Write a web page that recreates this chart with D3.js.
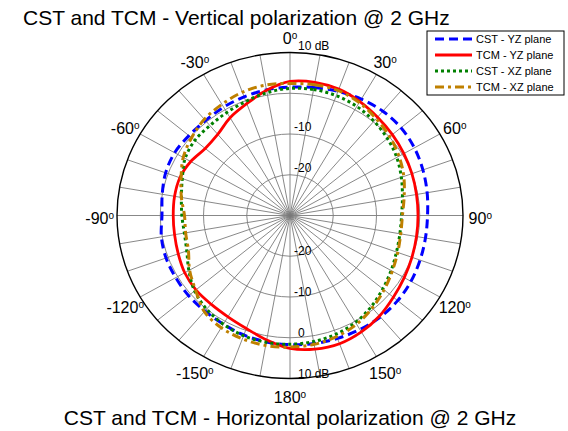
<!DOCTYPE html>
<html>
<head>
<meta charset="utf-8">
<script src="https://cdn.jsdelivr.net/npm/d3@7"></script>
<style>
  body { margin: 0; background: #fff; }
  text { font-family: "Liberation Sans", Arial, sans-serif; }
</style>
</head>
<body>
<div id="chart"></div>
<script>
// angles in degrees, clockwise from top
var angles = [0, 10, 20, 30, 40, 50, 60, 70, 80, 90, 100, 110, 120, 130, 140, 150, 160, 170,
              180, 190, 200, 210, 220, 230, 240, 250, 260, 270, 280, 290, 300, 310, 320, 330, 340, 350];

var cstYZ = [1.5, 1.9, 2.4, 3.0, 3.4, 3.5, 3.2, 2.7, 2.2, 1.8, 1.8, 2.0, 2.3, 2.5, 2.5, 2.3, 2.1, 1.9,
             1.7, 1.5, 1.2, 0.8, 0.6, 0.6, 0.5, 0.5, 0.2, -0.4, 0.0, 0.6, 0.8, 0.5, 0.4, 0.7, 1.0, 1.3];
var tcmYZ = [2.9, 3.2, 3.0, 2.3, 1.5, 0.9, 0.4, 0.0, -0.3, -0.4, -0.3, 0.0, 0.5, 1.2, 2.2, 3.0, 3.5, 3.3,
             2.6, 1.0, -0.5, -1.3, -1.6, -1.6, -1.9, -2.5, -2.9, -3.0, -2.9, -2.9, -3.5, -4.4, -4.0, -2.3, -0.8, 1.2];
var cstXZ = [1.2, 1.4, 1.3, 0.9, 0.2, -0.6, -1.5, -2.6, -3.6, -4.2, -4.2, -3.8, -3.0, -2.0, -0.8, 0.3, 1.0, 1.4,
             1.6, 1.6, 1.4, 0.8, 0.0, -1.2, -3.0, -4.6, -5.2, -5.0, -4.5, -3.5, -2.0, -1.3, -1.2, -0.8, -0.2, 0.6];
var tcmXZ = [2.4, 2.6, 2.6, 2.0, 1.0, 0.1, -0.9, -2.0, -3.2, -4.0, -4.0, -3.5, -2.7, -1.6, -0.4, 0.8, 1.6, 2.1,
             2.3, 2.4, 2.2, 1.8, 0.8, -1.5, -3.2, -5.0, -5.5, -5.6, -4.5, -3.2, -1.5, -0.3, 0.8, 1.5, 2.2, 2.5];

var seriesNames = ["CST - YZ plane", "TCM - YZ plane", "CST - XZ plane", "TCM - XZ plane"];
var ringValues = [-20, -10, 0, 10];
var topRingLabels = ["-20", "-10", "", "10 dB"];
var bottomRingLabels = ["-20", "-10", "0", "10 dB"];
var angleLabels = [0, 30, 60, 90, 120, 150, 180, -150, -120, -90, -60, -30];

document.addEventListener('DOMContentLoaded', function() {
  drawChart();
});

function drawChart(){
  var width = 568, height = 431;
  var cx = 290, cy = 215.5, rx = 173, ry = 163;

  var svg = d3.select("#chart")
    .append("svg")
    .attr("width", width)
    .attr("height", height);

  var r = d3.scaleLinear().domain([-30, 10]).range([0, 1]);
  var rad = function(a) { return a * Math.PI / 180; };
  var px = function(a, v) { return cx + rx * r(v) * Math.sin(rad(a)); };
  var py = function(a, v) { return cy - ry * r(v) * Math.cos(rad(a)); };

  // spokes every 10 degrees
  svg.append("g").selectAll("line")
    .data(angles)
    .enter().append("line")
    .attr("x1", cx).attr("y1", cy)
    .attr("x2", function(a) { return px(a, 10); })
    .attr("y2", function(a) { return py(a, 10); })
    .attr("stroke", "#7a7a7a")
    .attr("stroke-width", 0.9);

  // rings
  svg.append("g").selectAll("ellipse")
    .data(ringValues)
    .enter().append("ellipse")
    .attr("cx", cx).attr("cy", cy)
    .attr("rx", function(v) { return rx * r(v); })
    .attr("ry", function(v) { return ry * r(v); })
    .attr("fill", "none")
    .attr("stroke", function(v) { return v == 10 ? "#000" : "#7a7a7a"; })
    .attr("stroke-width", function(v) { return v == 10 ? 1.4 : 0.9; });

  // ring labels (non-negative ones sit a bit further right)
  var rl = svg.append("g").style("font-size", "12px");
  ringValues.forEach(function(v, i) {
    var lx = v < 0 ? cx + 4 : cx + 8;
    rl.append("text")
      .attr("x", lx)
      .attr("y", cy - ry * r(v) - 3)
      .text(topRingLabels[i]);
    rl.append("text")
      .attr("x", lx)
      .attr("y", cy + ry * r(v) - 1)
      .text(bottomRingLabels[i]);
  });

  // angle labels
  var al = svg.append("g").style("font-size", "16px");
  angleLabels.forEach(function(a) {
    var t = al.append("text")
      .attr("x", cx + rx * 1.1 * Math.sin(rad(a)))
      .attr("y", cy - ry * 1.1 * Math.cos(rad(a)) + 8)
      .style("text-anchor", "middle");
    t.append("tspan").text(a);
    t.append("tspan").attr("dy", -5).style("font-size", "10px").text("o");
  });

  var line = d3.line()
    .x(function(d) { return px(d.a, d.v); })
    .y(function(d) { return py(d.a, d.v); })
    .curve(d3.curveCatmullRomClosed);

  var styles = [
    {vals: cstYZ, color: "#0000ff", w: 3, dash: "9,5"},
    {vals: tcmYZ, color: "#ff0000", w: 2.8, dash: null},
    {vals: cstXZ, color: "#008000", w: 3, dash: "3,3"},
    {vals: tcmXZ, color: "#bf8000", w: 3, dash: "9,4,3,4"}
  ];

  styles.forEach(function(s) {
    var pts = angles.map(function(a, i) { return {a: a, v: s.vals[i]}; });
    svg.append("path")
      .datum(pts)
      .attr("d", line)
      .attr("fill", "none")
      .attr("stroke", s.color)
      .attr("stroke-width", s.w)
      .attr("stroke-dasharray", s.dash);
  });

  // titles
  svg.append("text")
    .attr("x", 23).attr("y", 25)
    .style("font-size", "21px")
    .text("CST and TCM - Vertical polarization @ 2 GHz");

  svg.append("text")
    .attr("x", 290).attr("y", 425)
    .style("text-anchor", "middle")
    .style("font-size", "21px")
    .text("CST and TCM - Horizontal polarization @ 2 GHz");

  // legend
  var lg = svg.append("g");
  lg.append("rect")
    .attr("x", 427).attr("y", 31)
    .attr("width", 137).attr("height", 64)
    .attr("fill", "#fff")
    .attr("stroke", "#000")
    .attr("stroke-width", 1);
  styles.forEach(function(s, i) {
    var yy = 39 + i * 16;
    lg.append("line")
      .attr("x1", 435).attr("x2", 472)
      .attr("y1", yy).attr("y2", yy)
      .attr("stroke", s.color)
      .attr("stroke-width", s.w)
      .attr("stroke-dasharray", s.dash);
    lg.append("text")
      .attr("x", 476).attr("y", yy + 4)
      .style("font-size", "11px")
      .text(seriesNames[i]);
  });
}
</script>
</body>
</html>
